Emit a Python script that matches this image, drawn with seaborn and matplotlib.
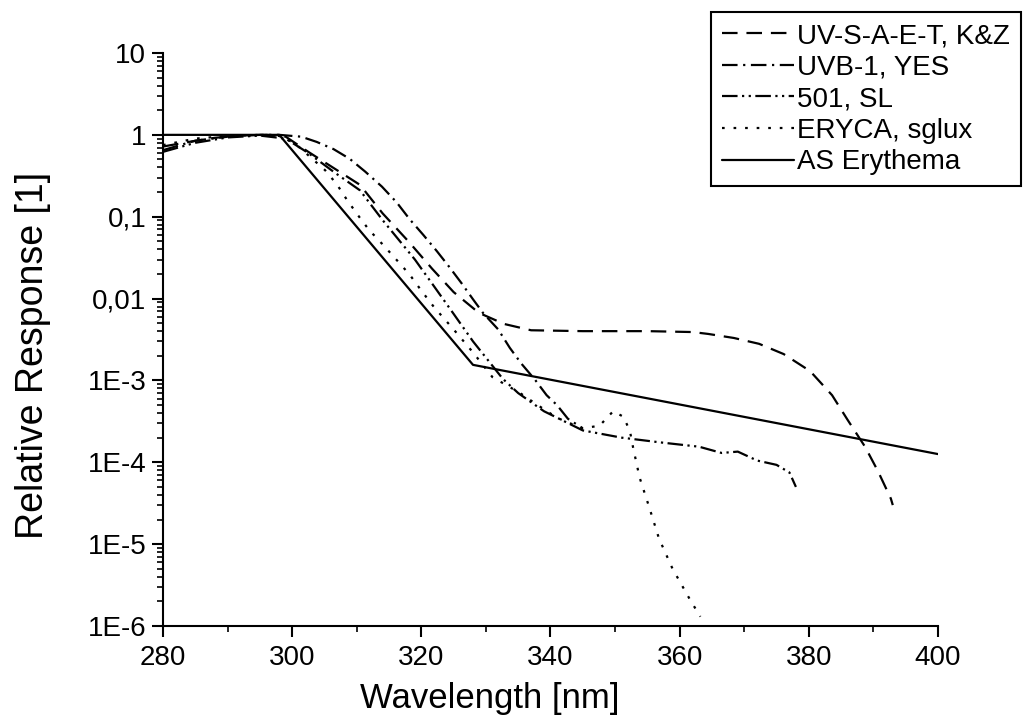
import numpy as np
import pandas as pd
import matplotlib
matplotlib.use('Agg')
import matplotlib.pyplot as plt
import matplotlib.ticker as mticker
import seaborn as sns

# Data (wavelength in nm, relative response)
kz_wl = [280, 284, 288, 292, 296, 299, 302.5, 306.5, 310.5, 314, 318, 321.7, 325, 328.9,
         332.8, 337, 345, 355, 362, 364.4, 368.4, 372.3, 376.1, 380.2, 383.6, 386,
         388.7, 390.7, 392.7, 393]
kz_resp = [0.72, 0.82, 0.92, 0.98, 1.0, 0.95, 0.62, 0.39, 0.245, 0.11, 0.05, 0.023, 0.012, 0.0067,
           0.0049, 0.0041, 0.004, 0.004, 0.0039, 0.0037, 0.0033, 0.0028, 0.0021, 0.0013, 6.6e-4, 3.3e-4,
           1.55e-4, 7.8e-5, 3.6e-5, 3.0e-5]

yes_wl = [280, 285, 290, 295, 298, 301.4, 303.8, 306.4, 308.9, 311.3, 313.9, 316.2, 318.2,
          320.3, 322.4, 324.3, 326.2, 328, 329.6, 331.9, 333.7, 335.5, 337.6, 339.4, 341,
          342.7, 345]
yes_resp = [0.65, 0.85, 0.95, 1.0, 1.0, 0.95, 0.82, 0.67, 0.51, 0.356, 0.233, 0.149, 0.093,
            0.060, 0.038, 0.0245, 0.0155, 0.0098, 0.0066, 0.0042, 0.0025, 0.0016, 0.00102, 6.6e-4, 5.0e-4,
            3.4e-4, 2.6e-4]

sl_wl = [280, 285, 290, 295, 299, 302.5, 306.5, 310.5, 314, 319, 322, 325, 328, 332.6, 335,
         339, 345, 351, 357, 363, 366.5, 369, 372, 375, 377, 378]
sl_resp = [0.62, 0.8, 0.93, 0.98, 0.9, 0.6, 0.35, 0.21, 0.091, 0.03, 0.014, 0.0065, 0.003, 0.00105, 7e-4,
           4.2e-4, 2.45e-4, 2.0e-4, 1.75e-4, 1.55e-4, 1.3e-4, 1.35e-4, 1.05e-4, 9.3e-5, 7.5e-5, 5.0e-5]

ery_wl = [280, 285, 290, 295, 298, 300.4, 305.1, 306.9, 308.5, 310.2, 311.9, 314, 316.2, 318.2,
          320, 322, 325, 328, 331, 335.3, 338, 341, 343, 345, 347.6, 349.7, 351.3, 352.3,
          352.8, 353.8, 355.3, 356.8, 358.9, 361.6, 363.2]
ery_resp = [0.75, 0.9, 0.97, 1.0, 0.97, 0.79, 0.37, 0.25, 0.16, 0.104, 0.069, 0.046, 0.0295, 0.0196,
            0.0125, 0.0078, 0.0042, 0.0022, 0.0011, 7e-4, 5e-4, 3.5e-4, 3.0e-4, 2.6e-4, 2.8e-4, 4.2e-4, 3.6e-4, 2.4e-4,
            1.5e-4, 6.5e-5, 2.8e-5, 1.17e-5, 5e-6, 2.1e-6, 1.3e-6]

as_wl = [280, 298, 328, 400]
as_resp = [1.0, 1.0, 0.00155, 1.26e-4]

names = ['UV-S-A-E-T, K&Z', 'UVB-1, YES', '501, SL', 'ERYCA, sglux', 'AS Erythema']
y_ticks = [10, 1, 0.1, 0.01, 1e-3, 1e-4, 1e-5, 1e-6]
y_tick_labels = ['10', '1', '0,1', '0,01', '1E-3', '1E-4', '1E-5', '1E-6']
x_ticks = [280, 300, 320, 340, 360, 380, 400]

series = [(kz_wl, kz_resp), (yes_wl, yes_resp), (sl_wl, sl_resp), (ery_wl, ery_resp), (as_wl, as_resp)]
styles = [(0, (7, 4)), (0, (7, 2.5, 1, 2.5)), (0, (7, 2, 1, 2, 1, 2)), (0, (1.2, 4)), '-']

sns.set_style('ticks')
plt.rcParams['font.family'] = ['Liberation Sans', 'DejaVu Sans']
plt.rcParams['text.color'] = 'black'
plt.rcParams['axes.labelcolor'] = 'black'

fig = plt.figure(figsize=(10.23, 7.25), dpi=100)
ax = fig.add_axes([163 / 1023, 99 / 725, 775 / 1023, 573 / 725])

handles = []
for (wl, resp), name, ls in zip(series, names, styles):
    df = pd.DataFrame({'wl': wl, 'resp': resp})
    sns.lineplot(data=df, x='wl', y='resp', ax=ax, color='black', lw=1.6,
                 linestyle=ls, label=name, legend=False)
    handles.append(ax.lines[-1])

ax.set_yscale('log')
ax.set_xlim(280, 400)
ax.set_ylim(1e-6, 10)
ax.set_xticks(x_ticks)
ax.xaxis.set_minor_locator(mticker.MultipleLocator(10))
ax.yaxis.set_major_locator(mticker.FixedLocator(y_ticks))
ax.yaxis.set_major_formatter(mticker.FixedFormatter(y_tick_labels))
ax.yaxis.set_minor_locator(mticker.LogLocator(base=10, subs=np.arange(2, 10), numticks=20))
ax.yaxis.set_minor_formatter(mticker.NullFormatter())

ax.tick_params(which='major', direction='out', length=8, width=1.5, labelsize=20,
               colors='black', labelcolor='black')
ax.tick_params(which='minor', direction='out', length=4, width=1.2, colors='black')
ax.tick_params(axis='x', pad=6)
ax.tick_params(axis='y', pad=4)

for side in ['top', 'right']:
    ax.spines[side].set_visible(False)
for side in ['left', 'bottom']:
    ax.spines[side].set_linewidth(1.5)
    ax.spines[side].set_color('black')

ax.set_xlabel('Wavelength [nm]', fontsize=25)
ax.set_ylabel('Relative Response [1]', fontsize=27)
ax.xaxis.set_label_coords(0.422, -0.097)
ax.yaxis.set_label_coords(-0.145, 0.473)

leg = fig.legend(handles=handles, labels=names, loc='upper right',
                 bbox_to_anchor=(1021 / 1023, 1 - 12 / 725), bbox_transform=fig.transFigure,
                 fontsize=20, frameon=True, fancybox=False, framealpha=1,
                 edgecolor='black', borderpad=0.4, labelspacing=0.2,
                 handlelength=2.6, handletextpad=0.1, borderaxespad=0)
leg.get_frame().set_linewidth(1.5)

fig.savefig('out.png', dpi=100)
